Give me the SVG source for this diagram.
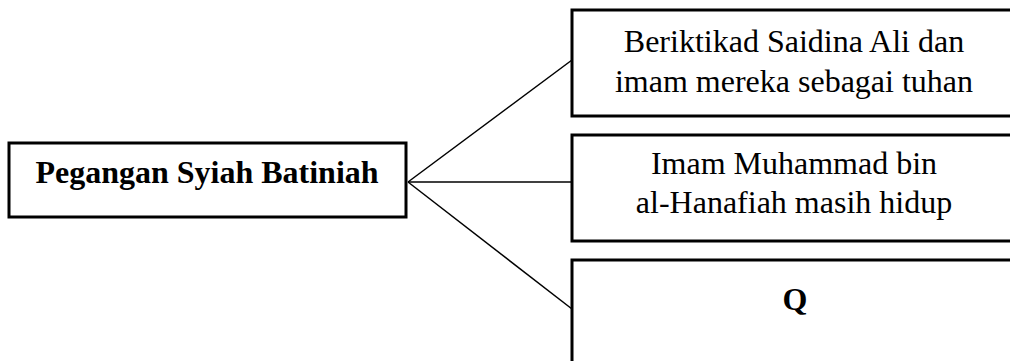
<svg xmlns="http://www.w3.org/2000/svg" width="1010" height="361" viewBox="0 0 1010 361">
<style>
.box{fill:#fff;stroke:#000;stroke-width:3}
.t{font-family:"Liberation Serif","Times New Roman",serif;font-size:32px;fill:#000;text-anchor:middle}
.b{font-weight:bold}
.ln{stroke:#000;stroke-width:1.5;fill:none}
</style>
<rect width="1010" height="361" fill="#fff"/>
<g id="connectors">
<line class="ln" x1="408" y1="182" x2="572" y2="60"/>
<line class="ln" x1="408" y1="182" x2="572" y2="182"/>
<line class="ln" x1="408" y1="182" x2="572" y2="309"/>
</g>
<g id="root">
<rect class="box" x="9" y="143" width="397" height="74"/>
<text class="t b" x="207" y="183">Pegangan Syiah Batiniah</text>
</g>
<g id="n1">
<rect class="box" x="572" y="10" width="445" height="106"/>
<text class="t" x="794" y="52">Beriktikad Saidina Ali dan</text>
<text class="t" x="794" y="92">imam mereka sebagai tuhan</text>
</g>
<g id="n2">
<rect class="box" x="572" y="135" width="445" height="106"/>
<text class="t" x="794" y="174">Imam Muhammad bin</text>
<text class="t" x="794" y="213">al-Hanafiah masih hidup</text>
</g>
<g id="n3">
<rect class="box" x="572" y="260" width="445" height="120"/>
<text class="t b" x="795" y="310">Q</text>
</g>
</svg>
